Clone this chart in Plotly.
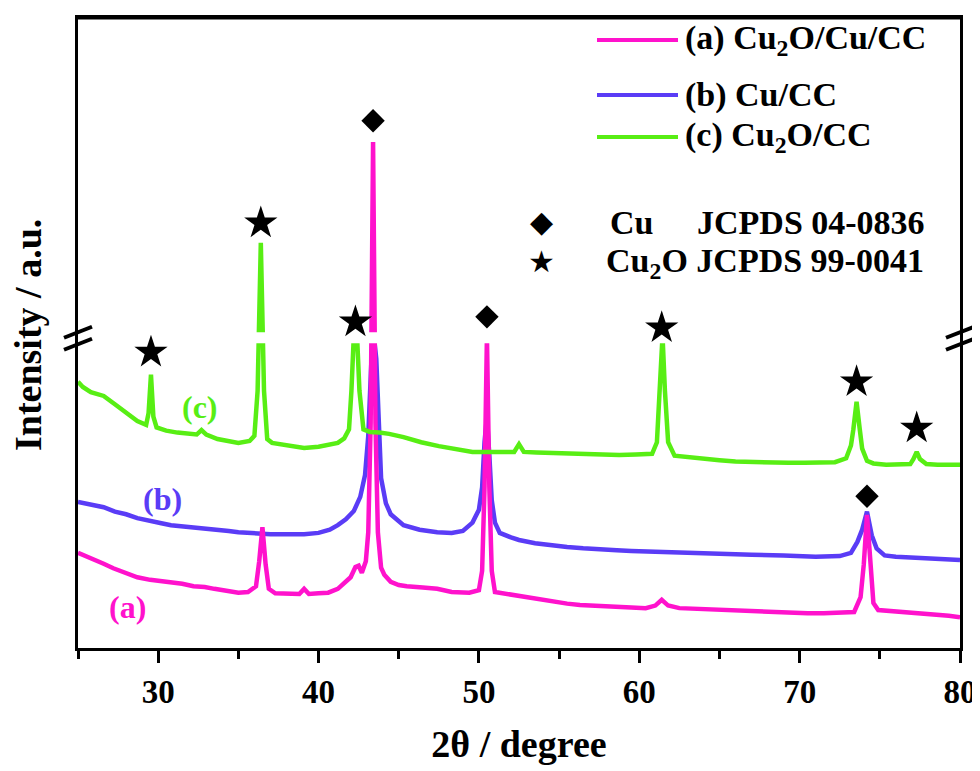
import plotly.graph_objects as go

# XRD patterns, intensities in a.u. (offset curves)
tt_a = [25.0, 25.5, 26.0, 26.6, 27.2, 28.0, 28.7, 29.5, 30.2, 30.8, 31.5, 32.2, 32.9, 33.5, 34.2, 35.0,
        35.6, 36.1, 36.3, 36.5, 36.7, 36.9, 37.3, 38.0, 38.8, 39.1, 39.4, 40.0, 40.6, 41.2, 41.7, 42.0,
        42.3, 42.5, 42.7, 42.95, 43.1, 43.25, 43.4, 43.55, 43.7, 43.9, 44.1, 44.5, 45.0, 45.5, 46.5,
        47.4, 48.3, 49.4, 50.0, 50.2, 50.35, 50.5, 50.65, 50.8, 51.0, 51.5, 52.5, 53.5, 54.5, 55.5,
        56.3, 57.5, 58.5, 59.5, 60.4, 61.0, 61.4, 61.8, 62.5, 63.5, 64.5, 65.5, 66.5, 67.5, 68.5,
        69.5, 70.5, 71.5, 72.5, 73.4, 73.8, 74.0, 74.2, 74.4, 74.6, 74.9, 75.5, 76.5, 77.5, 78.5,
        79.3, 80.0]
int_a = [14.8, 14.3, 13.8, 13.1, 12.4, 11.6, 11.0, 10.6, 10.4, 10.3, 10.0, 9.6, 9.5, 9.2, 9.0, 8.6,
         8.7, 9.6, 13.5, 18.8, 13.0, 9.2, 8.5, 8.5, 8.4, 9.2, 8.4, 8.5, 8.6, 9.2, 10.2, 11.0,
         12.6, 12.8, 11.7, 13.5, 18.0, 35.0, 78.7, 35.0, 18.0, 12.5, 11.4, 10.3, 9.8, 9.6, 9.4,
         9.2, 8.7, 8.6, 9.0, 12.0, 25.0, 48.5, 25.0, 12.0, 8.7, 8.5, 8.0, 7.6, 7.2, 6.9,
         6.7, 6.5, 6.3, 6.3, 6.2, 6.6, 7.5, 6.6, 6.2, 6.1, 6.0, 5.8, 5.7, 5.6, 5.5,
         5.5, 5.4, 5.4, 5.5, 5.6, 7.9, 13.0, 20.7, 13.0, 7.0, 5.9, 5.8, 5.6, 5.4, 5.2,
         5.0, 4.8]

tt_b = [25.0, 25.5, 26.0, 26.6, 27.3, 28.0, 28.7, 29.5, 30.2, 30.8, 31.6, 32.3, 32.9, 33.7, 34.4,
        35.0, 36.0, 37.0, 38.0, 39.1, 40.0, 40.7, 41.2, 41.7, 42.2, 42.6, 42.9, 43.1, 43.3, 43.45,
        43.6, 43.8, 43.9, 44.2, 44.5, 45.3, 46.3, 47.4, 48.3, 49.0, 49.6, 50.0, 50.2, 50.35, 50.5,
        50.65, 50.8, 51.0, 51.3, 52.0, 52.5, 53.5, 54.4, 55.5, 56.5, 57.5, 58.6, 59.5, 60.5, 61.5,
        62.8, 64.0, 65.0, 67.0, 69.0, 71.0, 72.5, 73.2, 73.6, 73.9, 74.2, 74.5, 74.8, 75.3, 76.0,
        77.0, 78.0, 79.0, 80.0]
int_b = [22.7, 22.4, 22.2, 21.9, 21.2, 20.8, 20.2, 19.7, 19.4, 19.1, 18.9, 18.8, 18.7, 18.4, 18.2,
         18.0, 17.8, 17.7, 17.7, 17.7, 17.9, 18.4, 19.1, 20.0, 21.3, 23.5, 26.9, 33.0, 45.0, 48.5,
         45.0, 32.0, 26.4, 22.5, 20.8, 19.1, 18.4, 18.0, 17.9, 18.2, 19.5, 21.5, 25.0, 32.0, 36.0,
         30.0, 23.0, 19.5, 17.9, 17.2, 16.8, 16.3, 16.0, 15.7, 15.5, 15.3, 15.2, 15.1, 15.0, 14.9,
         14.8, 14.7, 14.6, 14.5, 14.4, 14.2, 14.3, 14.8, 16.5, 18.4, 21.2, 17.5, 15.5, 14.4, 14.2,
         14.1, 13.9, 13.8, 13.7]

tt_c = [25.0, 25.3, 25.8, 26.6, 27.3, 28.0, 28.7, 29.25, 29.4, 29.55, 29.7, 29.9, 30.5, 31.2, 31.8,
        32.4, 32.7, 33.0, 33.7, 34.3, 35.0, 35.7, 36.0, 36.2, 36.4, 36.6, 36.8, 37.1, 38.0, 39.1,
        40.0, 40.6, 41.2, 41.6, 41.9, 42.05, 42.2, 42.4, 42.55, 42.8, 43.2, 43.8, 44.4, 45.3, 46.4,
        47.5, 48.3, 49.6, 50.8, 51.6, 52.2, 52.5, 52.8, 53.6, 54.6, 55.6, 56.7, 57.7, 58.75, 59.8,
        60.8, 61.1, 61.3, 61.45, 61.6, 61.8, 62.2, 62.9, 64.0, 65.0, 66.0, 67.1, 68.2, 69.3, 70.3,
        71.25, 72.2, 72.9, 73.2, 73.35, 73.55, 73.75, 73.9, 74.2, 74.6, 75.4, 76.2, 76.9, 77.1,
        77.3, 77.5, 77.9, 78.6, 79.3, 80.0]
int_c = [41.4, 40.6, 39.8, 39.2, 37.9, 36.6, 35.3, 34.7, 36.5, 42.5, 36.0, 34.3, 33.8, 33.5, 33.4,
         33.2, 33.9, 33.2, 32.5, 32.2, 31.9, 32.2, 33.0, 40.0, 63.0, 40.0, 32.5, 31.9, 31.6, 31.1,
         31.3, 31.6, 31.9, 32.6, 34.0, 40.0, 48.6, 48.6, 40.0, 34.0, 33.6, 33.5, 33.3, 32.8, 32.0,
         31.4, 31.0, 30.5, 30.5, 30.5, 30.5, 31.7, 30.5, 30.4, 30.3, 30.2, 30.1, 30.0, 30.0, 30.1,
         30.2, 32.0, 40.0, 48.6, 40.0, 32.0, 29.9, 29.7, 29.4, 29.2, 29.0, 28.9, 28.8, 28.8, 28.8,
         28.8, 28.9, 29.5, 31.5, 34.0, 38.3, 34.0, 31.0, 29.1, 28.7, 28.5, 28.5, 28.6, 29.4,
         30.5, 29.4, 28.6, 28.5, 28.5, 28.5]

# phase markers above the peaks
cu_x = [43.4, 50.5, 74.2]
cu_y = [82.0, 51.5, 23.6]
cu2o_x = [29.55, 36.4, 42.3, 61.4, 73.55, 77.3]
cu2o_y = [46.0, 66.1, 50.7, 49.8, 41.4, 34.2]

# axis break (a.u.)
brk_lo, brk_hi = 47.4, 49.1

PINK = '#FF12CC'
BLUE = '#5A3CF6'
GREEN = '#58EE14'
FONT = 'Liberation Serif, Times New Roman, serif'

# page body has an 8px margin, so the figure is a bit smaller than the window
OFF = 8
W, H = 972, 763
L, R, T, B = 70, 20, 10, 123
Y_MAX = (H - T - B) / 6.43  # keeps 6.43 px per unit with 0 at the bottom frame


def px(x):  # page pixel -> paper x
    return (x - OFF - L) / (W - L - R)


def py(y):  # page pixel -> paper y
    return (H - B - (y - OFF)) / (H - B - T)


fig = go.Figure()
fig.add_trace(go.Scatter(x=tt_b, y=int_b, mode='lines', line=dict(color=BLUE, width=4.5)))
fig.add_trace(go.Scatter(x=tt_a, y=int_a, mode='lines', line=dict(color=PINK, width=4.5)))
fig.add_trace(go.Scatter(x=tt_c, y=int_c, mode='lines', line=dict(color=GREEN, width=4.5)))
# white band for the broken axis
fig.add_trace(go.Scatter(x=[25, 80, 80, 25], y=[brk_lo, brk_lo, brk_hi, brk_hi], fill='toself',
                         fillcolor='white', line=dict(width=0), mode='lines', hoverinfo='skip'))
fig.add_trace(go.Scatter(x=cu_x, y=cu_y, mode='markers',
                         marker=dict(symbol='diamond', size=18, color='black')))
fig.add_trace(go.Scatter(x=cu2o_x, y=cu2o_y, mode='markers',
                         marker=dict(symbol='star', size=25, color='black')))

# top frame line
fig.add_shape(type='line', xref='paper', yref='paper', x0=0, x1=1, y0=1, y1=1,
              line=dict(color='black', width=3), layer='above')

# break marks on both y axes
ymid = (brk_lo + brk_hi) / 2
for xa in (0, 1):
    for y0, y1 in ((0, 11), (-12, -1)):
        fig.add_shape(type='line', xref='paper', yref='y', xsizemode='pixel', ysizemode='pixel',
                      xanchor=xa, yanchor=ymid, x0=-14, x1=14, y0=y0, y1=y1,
                      line=dict(color='black', width=4))

# legend drawn by hand
rows = [(PINK, '(a) Cu<sub>2</sub>O/Cu/CC', 40), (BLUE, '(b) Cu/CC', 95), (GREEN, '(c) Cu<sub>2</sub>O/CC', 137)]
for col, txt, yy in rows:
    fig.add_shape(type='line', xref='paper', yref='paper', x0=px(597), x1=px(678), y0=py(yy), y1=py(yy),
                  line=dict(color=col, width=4))
    fig.add_annotation(x=px(683), y=py(yy), xref='paper', yref='paper', text=txt, showarrow=False,
                       xanchor='left', yanchor='middle', font=dict(size=34, color='black'))

fig.add_annotation(x=px(541), y=py(222), xref='paper', yref='paper', text='◆', showarrow=False,
                   xanchor='center', yanchor='middle', font=dict(size=30, color='black', family='DejaVu Sans'))
fig.add_annotation(x=px(541), y=py(262), xref='paper', yref='paper', text='★', showarrow=False,
                   xanchor='center', yanchor='middle', font=dict(size=30, color='black', family='DejaVu Sans'))
fig.add_annotation(x=px(608), y=py(223), xref='paper', yref='paper', text='Cu', showarrow=False,
                   xanchor='left', yanchor='middle', font=dict(size=34))
fig.add_annotation(x=px(695), y=py(223), xref='paper', yref='paper', text='JCPDS 04-0836', showarrow=False,
                   xanchor='left', yanchor='middle', font=dict(size=34))
fig.add_annotation(x=px(604), y=py(263), xref='paper', yref='paper', text='Cu<sub>2</sub>O JCPDS 99-0041',
                   showarrow=False, xanchor='left', yanchor='middle', font=dict(size=34))

# curve labels
for txt, col, xx, yy in (('(c)', GREEN, 200, 407), ('(b)', BLUE, 162, 499), ('(a)', PINK, 127, 607)):
    fig.add_annotation(x=px(xx), y=py(yy), xref='paper', yref='paper', text=txt, showarrow=False,
                       xanchor='center', yanchor='middle', font=dict(size=32, color=col))

# y axis title
fig.add_annotation(x=px(28), y=py(335), xref='paper', yref='paper', text='Intensity / a.u.', showarrow=False,
                   textangle=-90, xanchor='center', yanchor='middle', font=dict(size=38))

fig.update_layout(
    width=W, height=H,
    margin=dict(l=L, r=R, t=T, b=B, autoexpand=False),
    plot_bgcolor='white', paper_bgcolor='white',
    showlegend=False,
    font=dict(family=FONT, color='black', size=30, weight='bold'),
    xaxis=dict(range=[25, 80], showgrid=False, zeroline=False, showline=True, linewidth=3,
               linecolor='black', mirror=True, ticks='outside', ticklen=12, tickwidth=3,
               tickcolor='black', dtick=10, tick0=30, ticklabelstandoff=0, automargin=False,
               minor=dict(ticks='outside', ticklen=8, tickwidth=3, dtick=5, tick0=25, tickcolor='black'),
               tickfont=dict(size=33),
               title=dict(text='2θ / degree', font=dict(size=38), standoff=22)),
    yaxis=dict(range=[0, Y_MAX], showgrid=False, zeroline=False, showline=True, linewidth=3,
               linecolor='black', mirror=True, ticks='', showticklabels=False, automargin=False),
)

fig.write_html('out.html')
